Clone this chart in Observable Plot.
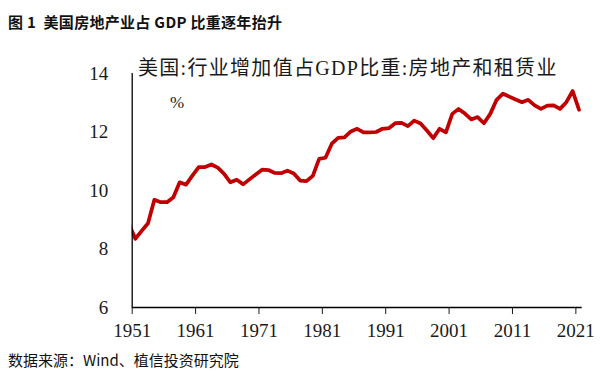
<!DOCTYPE html>
<html><head><meta charset="utf-8">
<script src="https://cdn.jsdelivr.net/npm/d3@7"></script>
<script src="https://cdn.jsdelivr.net/npm/@observablehq/plot@0.6"></script>
<style>
html,body{margin:0;padding:0;background:#fff;}
#wrap{position:relative;width:612px;height:374px;overflow:hidden;background:#fff;}
.t{position:absolute;white-space:pre;line-height:1;}
#fig{left:8px;top:11px;font:700 15px "Noto Sans CJK SC";letter-spacing:0.3px;color:#111;}
#ct{left:138px;top:52px;font:20px "Liberation Serif","Noto Sans CJK SC";letter-spacing:1.3px;color:#1a1a1a;}
#src{left:8px;top:349px;font:15px "Noto Sans CJK SC";color:#111;}
#chart{position:absolute;left:0;top:0;}
</style></head><body>
<div id="wrap">
<div id="chart"></div>
<div class="t" id="fig">图 1  美国房地产业占 GDP 比重逐年抬升</div>
<div class="t" id="ct">美国:行业增加值占GDP比重:房地产和租赁业</div>
<div class="t" id="src">数据来源：Wind、植信投资研究院</div>
</div>
<script>
const firstYear = 1950;
const shares = [
  8.85, 8.35, 8.62, 8.88, 9.68, 9.60, 9.60, 9.77, 10.28, 10.20,
  10.51, 10.80, 10.80, 10.89, 10.78, 10.57, 10.28, 10.37, 10.21, 10.38,
  10.55, 10.71, 10.70, 10.60, 10.59, 10.68, 10.58, 10.34, 10.32, 10.50,
  11.08, 11.12, 11.60, 11.80, 11.82, 12.02, 12.11, 11.99, 11.99, 12.00,
  12.11, 12.13, 12.30, 12.31, 12.20, 12.39, 12.29, 12.05, 11.79, 12.11,
  11.99, 12.62, 12.79, 12.63, 12.43, 12.51, 12.30, 12.62, 13.10, 13.31,
  13.21, 13.11, 13.02, 13.10, 12.91, 12.79, 12.90, 12.91, 12.79, 13.02,
  13.40, 12.76
];
const xTickYears = [1951, 1961, 1971, 1981, 1991, 2001, 2011, 2021];
const yTicks = [6, 8, 10, 12, 14];
const xStartYear = 1951, xEndYear = 2022;
const unitLabel = ["%"];

// annual values plotted at mid-year
const data = shares.map((v, i) => ({date: new Date(Date.UTC(firstYear + i, 6, 1)), value: v}));
const xStart = new Date(Date.UTC(xStartYear, 0, 1));
const xEnd = new Date(Date.UTC(xEndYear, 0, 1));

const chart = Plot.plot({
  width: 612, height: 374,
  marginLeft: 131.7, marginRight: 30.3, marginTop: 73, marginBottom: 67,
  style: {fontFamily: "'Liberation Serif', serif", fontSize: "19px", color: "#1a1a1a", background: "transparent"},
  x: {type: "utc", domain: [xStart, xEnd], ticks: xTickYears.map(y => new Date(Date.UTC(y, 0, 1))),
      tickFormat: d3.utcFormat("%Y"), tickSize: 7, tickPadding: 9, label: null},
  y: {domain: [6, 14], ticks: yTicks, tickSize: 0, tickPadding: 24, label: null},
  marks: [
    Plot.lineY(data, {x: "date", y: "value", stroke: "#c00000", strokeWidth: 3.75, clip: true, strokeLinejoin: "round"}),
    Plot.ruleX([xStart], {stroke: "#000", strokeWidth: 1.3}),
    Plot.ruleY([6], {stroke: "#000", strokeWidth: 1.3}),
    Plot.text(unitLabel, {frameAnchor: "top-left", dx: 45, dy: 22, fontSize: 17, fill: "#1a1a1a", textAnchor: "middle"})
  ]
});
document.getElementById("chart").appendChild(chart);
</script>
</body></html>
